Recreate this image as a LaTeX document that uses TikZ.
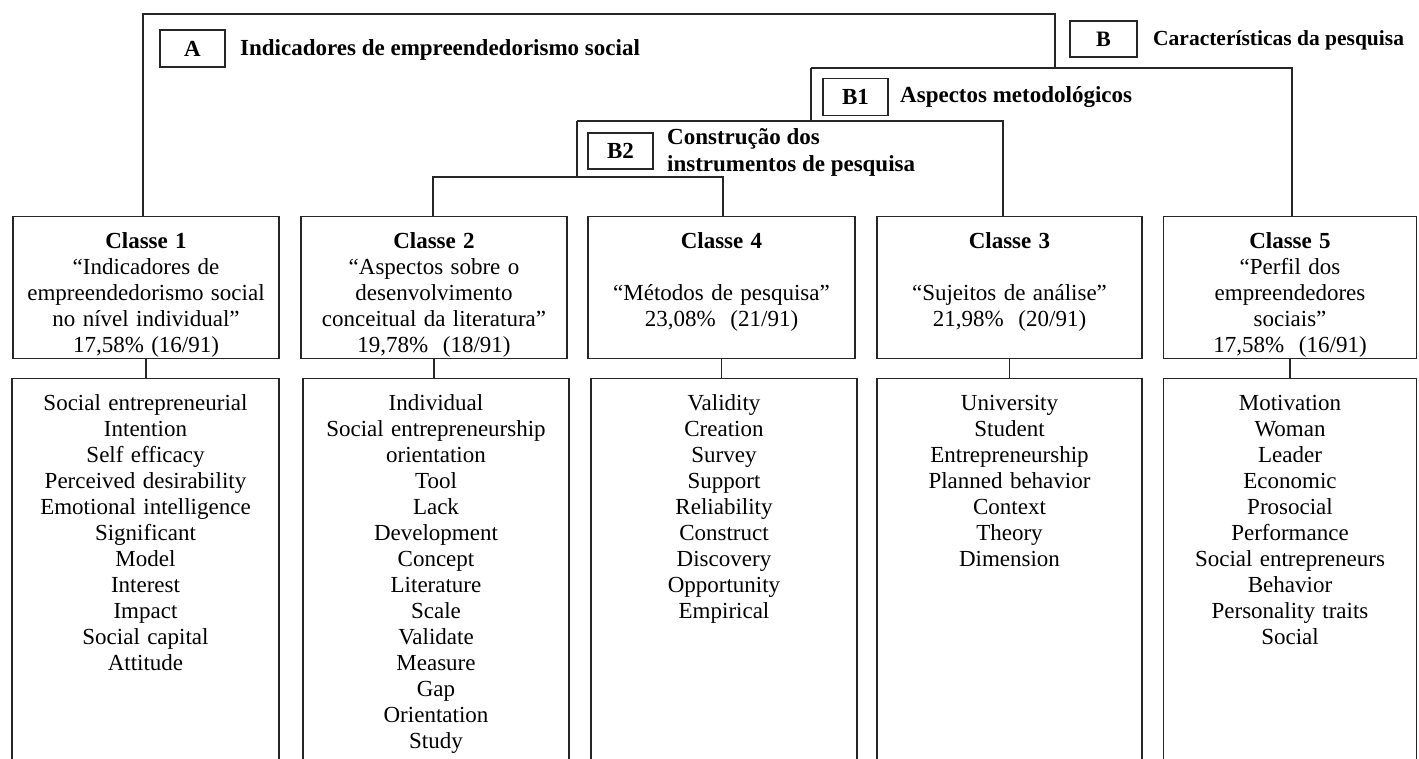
\documentclass[tikz,border=0pt]{standalone}
\usepackage{fontspec}
\setmainfont{Liberation Serif}
\newcommand{\tbox}[3]{\begin{minipage}[c][#2pt][t]{#1pt}\centering\fontsize{23}{26}\selectfont\spaceskip=0.32em plus 0.1em\rule{0pt}{31.5pt}#3\end{minipage}}
\begin{document}
\begin{tikzpicture}[x=1pt,y=-1pt,
  wire/.style={line width=1.2pt, draw=black!85},
  lbl/.style={draw=black!85, line width=1.6pt, minimum width=65pt, minimum height=37pt, inner sep=0pt, font=\bfseries\fontsize{23}{26}\selectfont},
  hdr/.style={anchor=west, inner sep=0pt, align=left, font=\bfseries\fontsize{23}{27}\selectfont},
  cls/.style={draw=black!85, line width=1.2pt, inner sep=0pt, anchor=north}]
\useasboundingbox (0,0) rectangle (1419,758);
\clip (0,0) rectangle (1419,758);

% labels
\node[lbl] (A) at (192.5,48.5) {A};
\node[hdr] (tA) at (240,50) {Indicadores de empreendedorismo social};
\node[lbl, minimum width=67pt, minimum height=36pt, font=\bfseries\fontsize{22}{26}\selectfont] (B) at (1103.5,39) {B};
\node[hdr, font=\bfseries\fontsize{21.5}{26}\selectfont] (tB) at (1153,40) {Características da pesquisa};
\node[lbl] (B1) at (855.5,97) {B1};
\node[hdr] (tB1) at (900,97) {Aspectos metodológicos};
\node[lbl, minimum height=36pt] (B2) at (620.5,151) {B2};
\node[hdr] (tB2) at (667,152.5) {Construção dos\\instrumentos de pesquisa};

% class boxes
\node[cls] (c1) at (146,216) {\tbox{266}{142}{\textbf{Classe 1}\\“Indicadores de\\empreendedorismo social\\no nível individual”\\17,58\% (16/91)}};
\node[cls] (c2) at (434,216) {\tbox{266}{142}{\textbf{Classe 2}\\“Aspectos sobre o\\desenvolvimento\\conceitual da literatura”\\19,78\% \ (18/91)}};
\node[cls] (c4) at (721.5,216) {\tbox{267}{142}{\textbf{Classe 4}\\[26pt]“Métodos de pesquisa”\\23,08\% \ (21/91)}};
\node[cls] (c3) at (1009.5,216) {\tbox{265}{142}{\textbf{Classe 3}\\[26pt]“Sujeitos de análise”\\21,98\% \ (20/91)}};
\node[cls] (c5) at (1290,216) {\tbox{253}{142}{\textbf{Classe 5}\\“Perfil dos\\empreendedores\\sociais”\\17,58\% \ (16/91)}};

% item boxes
\node[cls] (i1) at (145.5,378) {\tbox{267}{420}{Social entrepreneurial\\Intention\\Self efficacy\\Perceived desirability\\Emotional intelligence\\Significant\\Model\\Interest\\Impact\\Social capital\\Attitude}};
\node[cls] (i2) at (436,378) {\tbox{266}{420}{Individual\\Social entrepreneurship\\orientation\\Tool\\Lack\\Development\\Concept\\Literature\\Scale\\Validate\\Measure\\Gap\\Orientation\\Study}};
\node[cls] (i4) at (724,378) {\tbox{266}{420}{Validity\\Creation\\Survey\\Support\\Reliability\\Construct\\Discovery\\Opportunity\\Empirical}};
\node[cls] (i3) at (1009.5,378) {\tbox{265}{420}{University\\Student\\Entrepreneurship\\Planned behavior\\Context\\Theory\\Dimension}};
\node[cls] (i5) at (1290,378) {\tbox{253}{420}{Motivation\\Woman\\Leader\\Economic\\Prosocial\\Performance\\Social entrepreneurs\\Behavior\\Personality traits\\Social}};

% dendrogram joints
\coordinate (jA) at (143,14);
\coordinate (jT) at (1055,14);
\coordinate (jB) at (1055,68);
\coordinate (jB1) at (811,68);
\coordinate (jC5) at (1292,68);
\coordinate (jB1d) at (811,121);
\coordinate (jB2) at (577,121);
\coordinate (jC3) at (1003,121);
\coordinate (jB2d) at (577,177);
\coordinate (jC2) at (433,177);
\coordinate (jC4) at (723,177);

\draw[wire] (c1.north -| jA) -- (jA) -- (jT) -- (jB);
\draw[wire] (jB1) -- (jC5) -- (c5.north -| jC5);
\draw[wire] (jB1) -- (jB1d);
\draw[wire] (jB2) -- (jC3) -- (c3.north -| jC3);
\draw[wire] (jB2) -- (jB2d);
\draw[wire] (c2.north -| jC2) -- (jC2) -- (jC4) -- (c4.north -| jC4);

% class to items
\draw[wire] (c1.south) -- (c1.south |- i1.north);
\draw[wire] (c2.south) -- (c2.south |- i2.north);
\draw[wire] (c4.south) -- (c4.south |- i4.north);
\draw[wire] (c3.south) -- (c3.south |- i3.north);
\draw[wire] (c5.south) -- (c5.south |- i5.north);
\end{tikzpicture}
\end{document}
